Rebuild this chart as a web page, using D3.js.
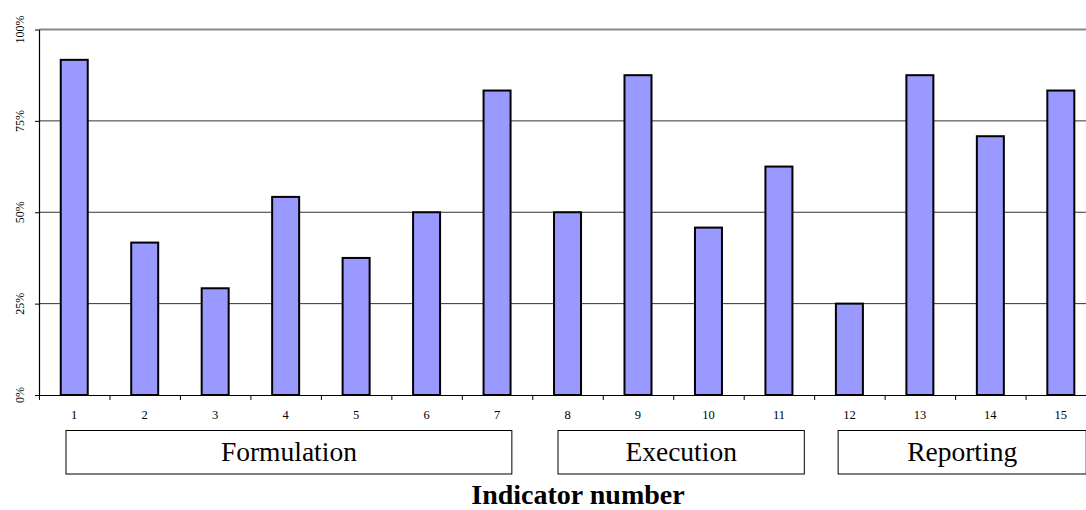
<!DOCTYPE html>
<html>
<head>
<meta charset="utf-8">
<script src="https://cdn.jsdelivr.net/npm/d3@7"></script>
<style>
  html, body { margin: 0; padding: 0; background: #fff; overflow: hidden; }
  svg { display: block; font-family: "Liberation Serif", "Times New Roman", serif; }
</style>
</head>
<body>
<svg id="chart" width="1086" height="510"></svg>
<script>
const categories = ["1","2","3","4","5","6","7","8","9","10","11","12","13","14","15"];
const values = [91.7, 41.7, 29.2, 54.2, 37.5, 50.0, 83.3, 50.0, 87.5, 45.8, 62.5, 25.0, 87.5, 70.8, 83.3];
const yTicks = [0, 25, 50, 75, 100];
const yTickLabels = ["0%", "25%", "50%", "75%", "100%"];
const groupNames = ["Formulation", "Execution", "Reporting"];
const groupStart = [0.883, 7.865, 11.84];
const groupEnd = [7.21, 11.36, 15.36];
const axisTitle = "Indicator number";

(function () {
const svg = d3.select("#chart");
const pLeft = 39, pRight = 39 + 70.47 * 15, pTop = 29.5, pBottom = 395;

const x = d3.scaleBand().domain(categories).range([pLeft, pRight]).paddingInner(0).paddingOuter(0);
const xu = d3.scaleLinear().domain([0.5, 15.5]).range([pLeft, pRight]);
const y = d3.scaleLinear().domain([0, 100]).range([pBottom, pTop]);

// gridlines
svg.append("g").selectAll("line").data(yTicks.filter(d => d > 0 && d < 100)).join("line")
  .attr("x1", pLeft).attr("x2", pRight)
  .attr("y1", d => y(d)).attr("y2", d => y(d))
  .attr("stroke", "#333").attr("stroke-width", 1);
// plot area top border
svg.append("line").attr("x1", pLeft).attr("x2", pRight)
  .attr("y1", y(100)).attr("y2", y(100))
  .attr("stroke", "#888").attr("stroke-width", 2);

// bars
const bw = 27;
svg.append("g").selectAll("rect").data(values).join("rect")
  .attr("x", (d, i) => x(categories[i]) + x.bandwidth() / 2 - bw / 2)
  .attr("y", d => y(d))
  .attr("width", bw)
  .attr("height", d => y(0) - y(d))
  .attr("fill", "#9999FF")
  .attr("stroke", "#000").attr("stroke-width", 2);

// y axis
const yAxis = svg.append("g").attr("transform", `translate(${pLeft},0)`)
  .call(d3.axisLeft(y).tickValues(yTicks).tickSize(4).tickSizeOuter(0).tickFormat(""));
yAxis.select(".domain").attr("stroke", "#000").attr("stroke-width", 1.2);
yAxis.selectAll(".tick line").attr("stroke", "#000");
svg.append("g").selectAll("text").data(yTicks).join("text")
  .attr("transform", d => `translate(23.5,${y(d)}) rotate(-90)`)
  .attr("text-anchor", "middle")
  .attr("font-size", 12)
  .attr("fill", "#000")
  .text((d, i) => yTickLabels[i]);

// x axis
const xAxis = svg.append("g").attr("transform", `translate(0,${pBottom})`)
  .call(d3.axisBottom(xu).tickValues(d3.range(0.5, 15.6, 1)).tickSize(5).tickSizeOuter(0).tickFormat(""));
xAxis.select(".domain").attr("stroke", "#000").attr("stroke-width", 1.2);
xAxis.selectAll(".tick line").attr("stroke", "#000");
svg.append("g").selectAll("text").data(categories).join("text")
  .attr("x", d => x(d) + x.bandwidth() / 2)
  .attr("y", 418.5)
  .attr("text-anchor", "middle")
  .attr("font-size", 12.5)
  .attr("fill", "#000")
  .text(d => d);

// group boxes
const g = svg.append("g").selectAll("g").data(groupNames).join("g");
g.append("rect")
  .attr("x", (d, i) => xu(groupStart[i]))
  .attr("y", 430.5)
  .attr("width", (d, i) => xu(groupEnd[i]) - xu(groupStart[i]))
  .attr("height", 43.5)
  .attr("fill", "#fff").attr("stroke", "#000").attr("stroke-width", 1);
g.append("text")
  .attr("x", (d, i) => (xu(groupStart[i]) + xu(groupEnd[i])) / 2)
  .attr("y", 461)
  .attr("text-anchor", "middle")
  .attr("font-size", 27.5)
  .attr("fill", "#000")
  .text(d => d);

// axis title
svg.append("text")
  .attr("x", 578).attr("y", 504)
  .attr("text-anchor", "middle")
  .attr("font-size", 28).attr("font-weight", "bold")
  .attr("fill", "#000")
  .text(axisTitle);
})();
</script>
</body>
</html>
